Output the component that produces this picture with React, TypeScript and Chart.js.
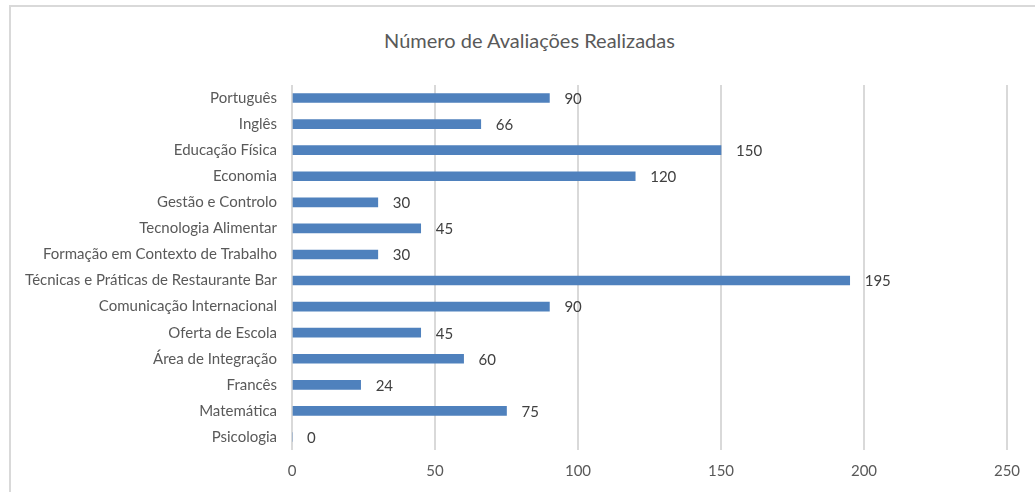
import React, { useEffect, useRef } from "react";
import { Chart, registerables } from "chart.js";

Chart.register(...registerables);

const TITLE = "Número de Avaliações Realizadas";
const categories = [
  "Português",
  "Inglês",
  "Educação Física",
  "Economia",
  "Gestão e Controlo",
  "Tecnologia Alimentar",
  "Formação em Contexto de Trabalho",
  "Técnicas e Práticas de Restaurante Bar",
  "Comunicação Internacional",
  "Oferta de Escola",
  "Área de Integração",
  "Francês",
  "Matemática",
  "Psicologia",
];
const values = [90, 66, 150, 120, 30, 45, 30, 195, 90, 45, 60, 24, 75, 0];
const xMin = 0;
const xMax = 250;
const xStep = 50;

const FONT = "Lato, 'Open Sans', sans-serif";
const TEXT = "#595959";

const valueLabels = {
  id: "valueLabels",
  afterDatasetsDraw(chart: any) {
    const ctx = chart.ctx;
    const meta = chart.getDatasetMeta(0);
    ctx.save();
    ctx.font = `15px ${FONT}`;
    ctx.fillStyle = "#404040";
    ctx.textAlign = "left";
    ctx.textBaseline = "middle";
    meta.data.forEach((el: any, i: number) => {
      ctx.fillText(String(values[i]), el.x + 15, el.y + 1);
    });
    ctx.restore();
  },
};

export default function App() {
  const ref = useRef<HTMLCanvasElement | null>(null);
  useEffect(() => {
    if (!ref.current) return;
    const chart = new Chart(ref.current, {
      type: "bar",
      data: {
        labels: categories,
        datasets: [
          {
            data: values,
            backgroundColor: "#4f81bd",
            barThickness: 9,
          },
        ],
      },
      options: {
        indexAxis: "y",
        animation: false,
        responsive: false,
        devicePixelRatio: 1,
        layout: { padding: { left: 0, right: 28, top: 85, bottom: 0 } },
        plugins: {
          legend: { display: false },
          tooltip: { enabled: false },
          title: { display: false },
        },
        scales: {
          x: {
            min: xMin,
            max: xMax,
            ticks: {
              stepSize: xStep,
              color: TEXT,
              font: { family: FONT, size: 15 },
              padding: 12,
            },
            grid: { color: "#d9d9d9", lineWidth: 2, drawTicks: false },
            border: { display: false },
            afterFit: (s: any) => {
              s.height = 42;
            },
          },
          y: {
            ticks: {
              color: TEXT,
              font: { family: FONT, size: 15 },
              padding: 15,
              autoSkip: false,
            },
            grid: { display: false, drawTicks: false },
            border: { display: false },
            afterFit: (s: any) => {
              s.width = 292;
            },
          },
        },
      } as any,
      plugins: [valueLabels],
    });
    return () => chart.destroy();
  }, []);

  return (
    <div
      style={{
        position: "absolute",
        left: 0,
        top: 0,
        width: 1035,
        height: 492,
        overflow: "hidden",
        background: "#fff",
      }}
    >
      <div
        style={{
          position: "absolute",
          left: 9,
          top: 5,
          width: 1200,
          height: 700,
          border: "2px solid #d9d9d9",
        }}
      />
      <div
        style={{
          position: "absolute",
          left: 0,
          top: 28,
          width: 1059,
          textAlign: "center",
          fontFamily: FONT,
          fontSize: 20,
          lineHeight: "24px",
          color: TEXT,
        }}
      >
        {TITLE}
      </div>
      <canvas
        ref={ref}
        width={1035}
        height={492}
        style={{ position: "absolute", left: 0, top: 0 }}
      />
    </div>
  );
}
